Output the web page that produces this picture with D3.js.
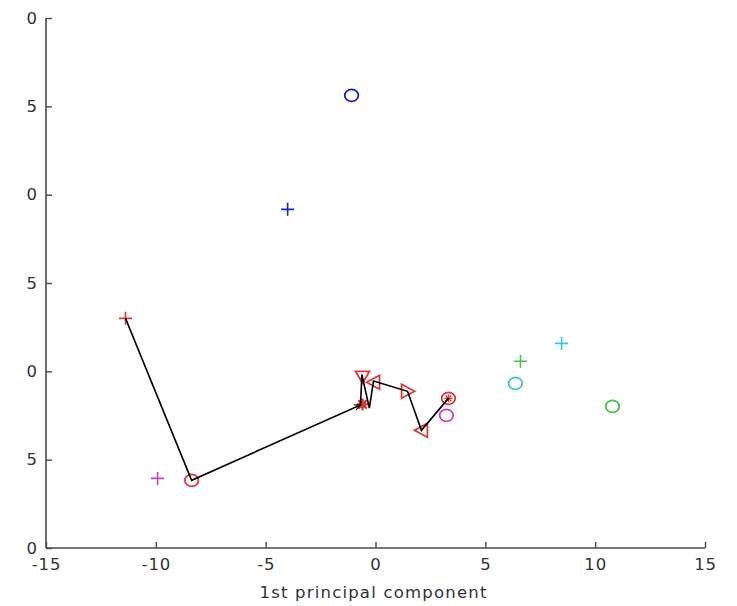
<!DOCTYPE html>
<html>
<head>
<meta charset="utf-8">
<script src="https://cdn.jsdelivr.net/npm/d3@7"></script>
<style>
  html, body { margin: 0; padding: 0; background: #fff; }
  svg { display: block; }
  text { font-family: "DejaVu Sans", sans-serif; fill: #333; }
</style>
</head>
<body>
<svg id="chart" width="737" height="606"></svg>
<script>
// ---- data ----
const xTicks = [-15, -10, -5, 0, 5, 10, 15];
const xTickLabels = ["-15", "-10", "-5", "0", "5", "10", "15"];
const yTicks = [-10, -5, 0, 5, 10, 15, 20];
const yTickLabels = ["0", "5", "0", "5", "0", "5", "0"]; // left digits are cut off in the original
const xLabel = "1st principal component";

// scatter points: [x, y, marker, colour]
const pointX =     [-1.09, -4.00, -11.38, -9.92, -8.37, -0.59, -0.59, -0.09, 1.46, 2.09, 3.32, 3.23, 6.37, 6.60, 8.47, 10.79];
const pointY =     [15.62,  9.17,   3.00, -6.06, -6.17, -1.87, -0.28, -0.62, -1.13, -3.34, -1.53, -2.49, -0.68, 0.57, 1.58, -1.98];
const pointMarker = ["circle","plus","plus","plus","circle","star","tridown","trileft","triright","trileft","circlestar","circle","circle","plus","plus","circle"];
const pointColor =  ["blue","blue","red","magenta","red","red","red","red","red","red","red","magenta","cyan","green","cyan","green"];

// trajectory line
const pathX = [-11.38, -8.37, -0.68, -0.62, -0.28, -0.09, 1.46, 2.09, 3.32];
const pathY = [  3.00, -6.17, -1.90, -0.18, -2.08, -0.55, -1.13, -3.34, -1.53];

const palette = { blue: "#2020c8", red: "#d83a3a", magenta: "#c840c8", cyan: "#38c8d0", green: "#44c444" };

// ---- layout ----
const svg = d3.select("#chart");
const x = d3.scaleLinear().domain([-15, 15]).range([46, 705]);
const y = d3.scaleLinear().domain([-10, 20]).range([548, 18]);

const axisColor = "#4a4a4a";

// x axis
const gx = svg.append("g").attr("transform", `translate(0,${y(-10)})`)
  .call(d3.axisBottom(x).tickValues(xTicks).tickSize(-6).tickPadding(10)
        .tickFormat((d, i) => xTickLabels[i]));
gx.select(".domain").attr("stroke", axisColor).attr("stroke-width", 1.6)
  .attr("d", `M${x(-15)},0H${x(15)}`);
gx.selectAll(".tick line").attr("stroke", axisColor).attr("stroke-width", 1.4);
gx.selectAll(".tick text").attr("font-size", 16.5).attr("letter-spacing", 0.8)
  .attr("fill", "#3a3a3a").attr("font-family", "DejaVu Sans, sans-serif");

// y axis
const gy = svg.append("g").attr("transform", `translate(${x(-15)},0)`)
  .call(d3.axisLeft(y).tickValues(yTicks).tickSize(-6).tickPadding(9)
        .tickFormat((d, i) => yTickLabels[i]));
gy.select(".domain").attr("stroke", axisColor).attr("stroke-width", 1.6)
  .attr("d", `M0,${y(20)}V${y(-10)}`);
gy.selectAll(".tick line").attr("stroke", axisColor).attr("stroke-width", 1.4);
gy.selectAll(".tick text").attr("font-size", 16.5)
  .attr("fill", "#3a3a3a").attr("font-family", "DejaVu Sans, sans-serif");

// x label
svg.append("text")
  .attr("x", (x(-15) + x(15)) / 2 - 2)
  .attr("y", 598)
  .attr("text-anchor", "middle")
  .attr("font-size", 16.5)
  .attr("letter-spacing", 1.2)
  .attr("fill", "#3a3a3a")
  .text(xLabel);

// arrow marker
svg.append("defs").append("marker")
  .attr("id", "arrow").attr("viewBox", "0 0 10 10")
  .attr("refX", 9).attr("refY", 5)
  .attr("markerWidth", 7).attr("markerHeight", 7)
  .attr("orient", "auto")
  .append("path").attr("d", "M0,1L9,5L0,9").attr("fill", "none")
  .attr("stroke", "#000").attr("stroke-width", 1.5);

// points
const points = pointX.map((v, i) => ({ x: pointX[i], y: pointY[i], m: pointMarker[i], c: palette[pointColor[i]] }));
const pg = svg.append("g");
points.forEach(p => {
  const cx = x(p.x), cy = y(p.y);
  const g = pg.append("g").attr("transform", `translate(${cx},${cy})`)
    .attr("stroke", p.c).attr("fill", "none").attr("stroke-width", 1.6);
  const s = 6.5;
  if (p.m === "circle" || p.m === "circlestar") {
    g.append("ellipse").attr("rx", 6.8).attr("ry", 6).attr("stroke-width", 1.8);
    if (p.m === "circlestar") {
      for (let a = 0; a < 180; a += 45) {
        const r = 4, t = a * Math.PI / 180;
        g.append("line").attr("x1", -r * Math.cos(t)).attr("y1", -r * Math.sin(t))
          .attr("x2", r * Math.cos(t)).attr("y2", r * Math.sin(t)).attr("stroke-width", 1.3);
      }
    }
  } else if (p.m === "plus") {
    g.append("path").attr("d", `M${-s},0H${s}M0,${-s}V${s}`);
  } else if (p.m === "star") {
    for (let a = 0; a < 180; a += 45) {
      const r = 6, t = a * Math.PI / 180;
      g.append("line").attr("x1", -r * Math.cos(t)).attr("y1", -r * Math.sin(t))
        .attr("x2", r * Math.cos(t)).attr("y2", r * Math.sin(t)).attr("stroke-width", 2.2);
    }
    g.append("circle").attr("r", 3).attr("fill", p.c);
  } else if (p.m === "tridown") {
    g.append("path").attr("d", `M${-7},${-5}L${7},${-5}L0,${7}Z`).attr("stroke-width", 1.8);
  } else if (p.m === "trileft") {
    g.append("path").attr("d", `M${-7},0L${6},${-7}L${6},${7}Z`).attr("stroke-width", 1.8);
  } else if (p.m === "triright") {
    g.append("path").attr("d", `M${7},0L${-6},${-7}L${-6},${7}Z`).attr("stroke-width", 1.8);
  }
});

// trajectory
const line = d3.line().x(d => x(d[0])).y(d => y(d[1]));
const pathPts = pathX.map((v, i) => [pathX[i], pathY[i]]);
svg.append("path")
  .attr("d", line(pathPts))
  .attr("fill", "none").attr("stroke", "#000").attr("stroke-width", 1.6)
  .attr("stroke-linejoin", "miter");
// arrowhead at the end of the long segment
svg.append("path")
  .attr("d", line(pathPts.slice(1, 3)))
  .attr("fill", "none").attr("stroke", "none")
  .attr("marker-end", "url(#arrow)");
</script>
</body>
</html>
